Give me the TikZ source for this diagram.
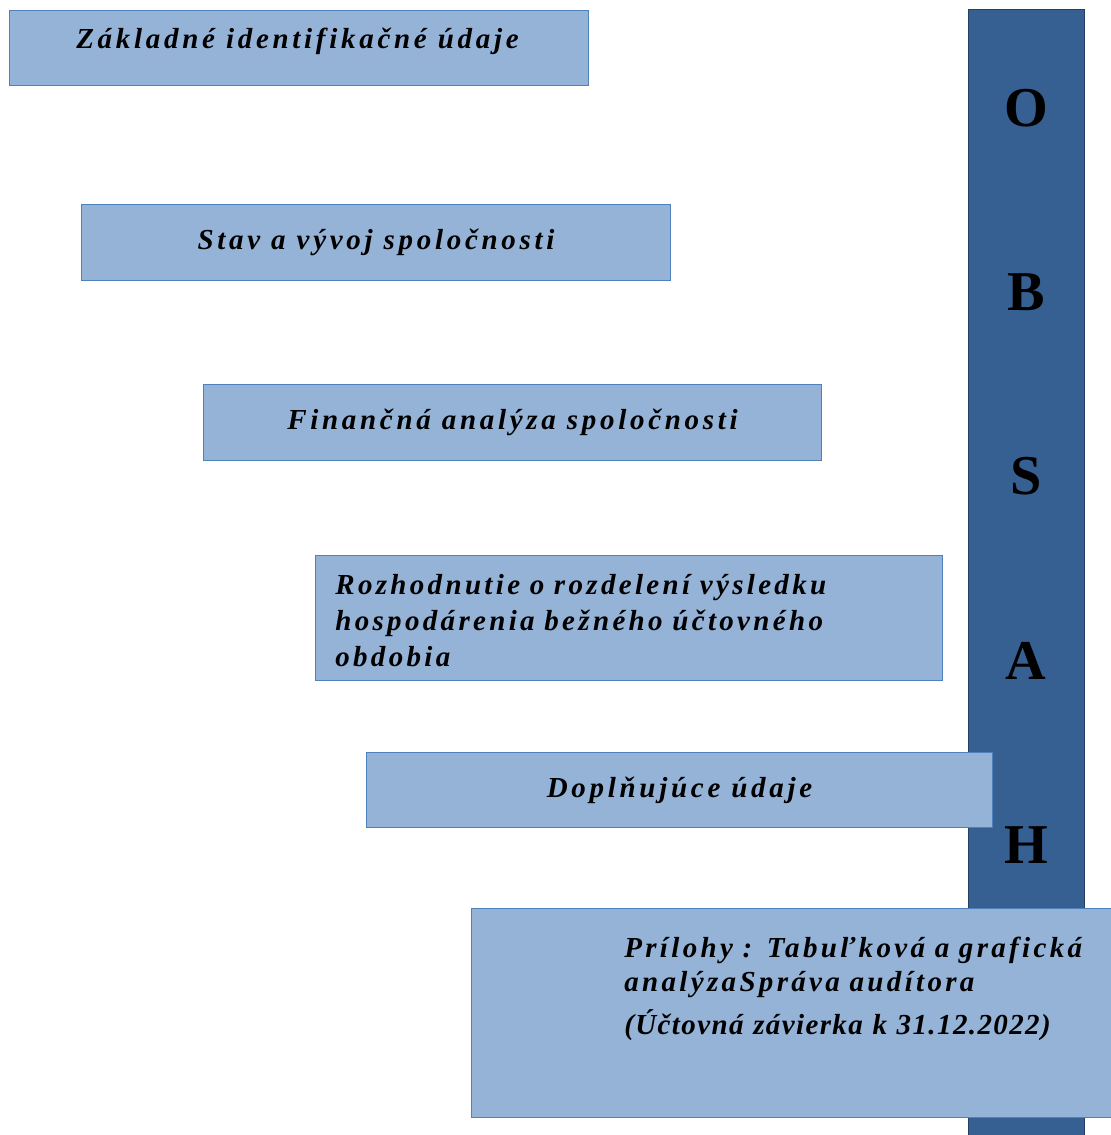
\documentclass[tikz,border=0pt]{standalone}
\usepackage{fontspec}
\setmainfont{Liberation Serif}
\newfontfamily\boxfont[LetterSpace=12.8]{Liberation Serif}
\newfontfamily\boxfontnarrow[LetterSpace=11.5]{Liberation Serif}
\newfontfamily\boxfonttight[LetterSpace=4.8]{Liberation Serif}
\usepackage{xcolor}
\definecolor{colorBox}{HTML}{95B3D7}
\definecolor{colorBoxLine}{HTML}{4F81BD}
\definecolor{colorBar}{HTML}{366092}
\definecolor{colorBarLine}{HTML}{244062}
\usepackage{tikz}
\usetikzlibrary{positioning}
\tikzset{box/.style={draw=colorBoxLine, fill=colorBox, line width=0.6pt, anchor=north west, inner sep=0pt, font=\boxfont\bfseries\itshape\fontsize{16.5}{20.7}\selectfont}}
\tikzset{boxtext/.style={inner sep=0pt, font=\boxfont\bfseries\itshape\fontsize{16.5}{20.7}\selectfont}}

\begin{document}
\begin{tikzpicture}[bar/.style={draw=colorBarLine, fill=colorBar, line width=0.8pt, anchor=north west, inner sep=0pt}, barletter/.style={font=\bfseries\fontsize{32}{36}\selectfont}]
\useasboundingbox (0,0) rectangle (22.2,-22.7);
\node[bar, minimum width=2.32cm, minimum height=22.7cm] (obsah) at (19.36,-0.18) {};
\foreach \l [count=\i from 0] in {O,B,S,A,H}
  \node[barletter] (obsah\i) at (20.52,-2.16-3.685*\i) {\l};
\node[box, minimum width=11.58cm, minimum height=1.5cm] (zak) at (0.18,-0.2) {};
\node[boxtext] (zaktext) at (5.95,-0.82) {Základné identifikačné údaje};
\node[box, minimum width=11.78cm, minimum height=1.52cm] (stav) at (1.62,-4.08) {Stav a vývoj spoločnosti};
\node[box, minimum width=12.36cm, minimum height=1.52cm] (fin) at (4.06,-7.68) {Finančná analýza spoločnosti};
\node[box, minimum width=12.54cm, minimum height=2.5cm] (roz) at (6.3,-11.1) {};
\node[boxtext, anchor=base west, text width=11.5cm, align=left, font=\boxfontnarrow\bfseries\itshape\fontsize{16.5}{20.7}\selectfont] (roztext) at (6.7,-11.88) {Rozhodnutie o rozdelení výsledku\\hospodárenia bežného účtovného\\obdobia};
\node[box, minimum width=12.52cm, minimum height=1.5cm] (dop) at (7.32,-15.04) {Doplňujúce údaje};
\node[box, minimum width=12.9cm, minimum height=4.18cm] (pri) at (9.42,-18.16) {};
\node[boxtext, anchor=base west, text width=9.5cm, align=left, font=\boxfontnarrow\bfseries\itshape\fontsize{16.5}{19.9}\selectfont] (pritext) at (12.48,-19.14) {Prílohy : Tabuľková a grafická\\analýzaSpráva audítora\\[4.5pt]{\boxfonttight (Účtovná závierka k 31.12.2022)}};
\end{tikzpicture}
\end{document}
